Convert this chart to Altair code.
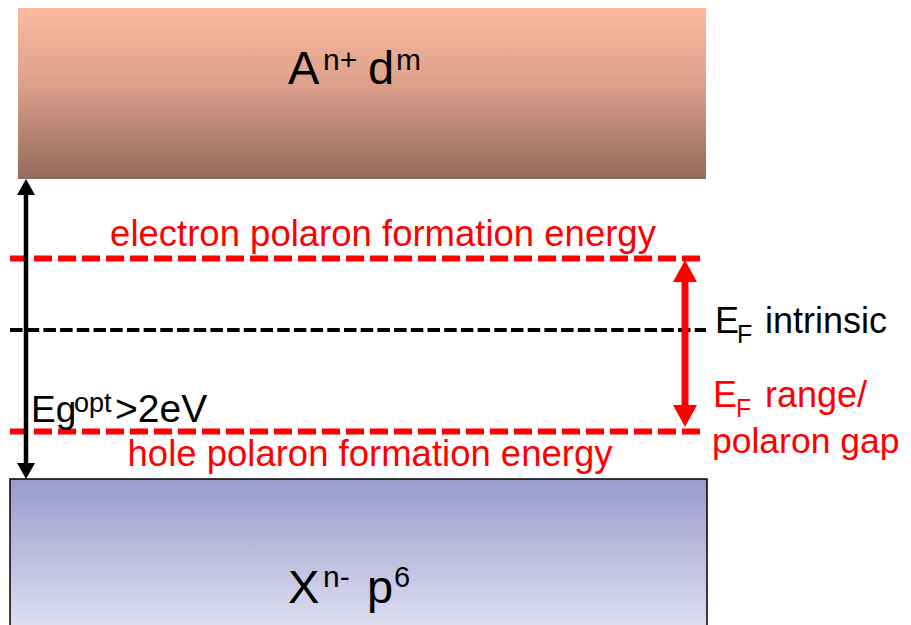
import altair as alt
import pandas as pd

# ---- canvas (diagram units = reference pixels) ----
W, H = 895, 617
X0, Y0 = 8, 8

# ---- bands ----
band_names = ["A", "X"]
band_left = [18, 10]
band_right = [706, 707]
band_top = [8, 479]
band_bottom = [179, 640]

# ---- dashed levels ----
level_names = ["electron polaron", "EF intrinsic", "hole polaron"]
level_y = [258.5, 330, 431.5]
level_x1 = [10, 10, 10]
level_x2 = [706, 706, 706]

# ---- arrows ----
arrow_names = ["Eg", "EF range"]
arrow_x = [26, 685]
arrow_top = [179, 260]
arrow_bottom = [479, 427]
arrow_head_h = [16, 22]
arrow_head_w = [18, 24]
arrow_shaft = [4.5, 7]
arrow_color = ["black", "red"]

# ---- text pieces ----
txt = ["A", "n+", "d", "m", "X", "n-", "p", "6",
       "Eg", "opt", ">2eV",
       "E", "F", "intrinsic",
       "E", "F", "range/", "polaron gap"]
txt_x = [288, 323, 368, 396, 288, 323, 367, 394,
         31, 74, 115,
         715, 737, 765,
         713, 736, 765, 712]
txt_y = [84, 70, 84, 70, 603, 587, 603, 587,
         422, 412, 422,
         333, 343, 333,
         407, 417, 407, 453]
txt_size = [47, 30, 47, 30, 47, 30, 47, 29,
            37, 27, 39,
            36, 25, 36,
            36, 25, 36, 35.5]
txt_color = ["black"] * 14 + ["red"] * 4

ctxt = ["electron polaron formation energy", "hole polaron formation energy"]
ctxt_x = [383, 370]
ctxt_y = [246, 466]
ctxt_size = [36.5, 36.5]

FONT = "Liberation Sans"

xs = alt.Scale(domain=[X0, X0 + W], nice=False, zero=False)
ys = alt.Scale(domain=[Y0, Y0 + H], nice=False, zero=False, reverse=True)
X = lambda f: alt.X(f, type="quantitative", scale=xs, axis=None)
Y = lambda f: alt.Y(f, type="quantitative", scale=ys, axis=None)

bands = pd.DataFrame({"name": band_names, "l": band_left, "r": band_right,
                      "t": band_top, "b": band_bottom})

top_grad = alt.Gradient(gradient="linear", x1=0, x2=0, y1=0, y2=1,
                        stops=[alt.GradientStop(color="#FBB9A0", offset=0),
                               alt.GradientStop(color="#DCA08A", offset=0.45),
                               alt.GradientStop(color="#946B5A", offset=1)])
bot_grad = alt.Gradient(gradient="linear", x1=0, x2=0, y1=0, y2=1,
                        stops=[alt.GradientStop(color="#9A9ACD", offset=0),
                               alt.GradientStop(color="#E4E4F2", offset=1)])

band_top_layer = alt.Chart(bands[bands.name == "A"]).mark_rect(
    fill=top_grad, clip=True).encode(x=X("l"), x2="r", y=Y("t"), y2="b")
band_bot_layer = alt.Chart(bands[bands.name == "X"]).mark_rect(
    fill=bot_grad, stroke="black", strokeWidth=1.5, clip=True).encode(
    x=X("l"), x2="r", y=Y("t"), y2="b")

levels = pd.DataFrame({"name": level_names, "y": level_y,
                       "x1": level_x1, "x2": level_x2})
red_levels = alt.Chart(levels[levels.name != "EF intrinsic"]).mark_rule(
    color="red", strokeWidth=6, strokeDash=[18, 6]).encode(
    x=X("x1"), x2="x2", y=Y("y"))
black_level = alt.Chart(levels[levels.name == "EF intrinsic"]).mark_rule(
    color="black", strokeWidth=4, strokeDash=[12.5, 4.2]).encode(
    x=X("x1"), x2="x2", y=Y("y"))

arrows = pd.DataFrame({"name": arrow_names, "x": arrow_x, "t": arrow_top,
                       "b": arrow_bottom, "h": arrow_head_h, "w": arrow_head_w,
                       "sw": arrow_shaft, "c": arrow_color})

arrow_layers = []
for i in range(len(arrow_names)):
    a = arrows.iloc[[i]].copy()
    h, w = arrow_head_h[i], arrow_head_w[i]
    k = w / h
    up = f"M0,0L{k:.3f},2L{-k:.3f},2Z"
    down = f"M0,0L{k:.3f},-2L{-k:.3f},-2Z"
    a["st"] = a["t"] + h * 0.8
    a["sb"] = a["b"] - h * 0.8
    shaft = alt.Chart(a).mark_rule(color=arrow_color[i],
                                   strokeWidth=arrow_shaft[i]).encode(
        x=X("x"), y=Y("st"), y2="sb")
    head_up = alt.Chart(a).mark_point(shape=up, size=h * h, filled=True,
                                      opacity=1, strokeWidth=0,
                                      color=arrow_color[i]).encode(
        x=X("x"), y=Y("t"))
    head_down = alt.Chart(a).mark_point(shape=down, size=h * h, filled=True,
                                        opacity=1, strokeWidth=0,
                                        color=arrow_color[i]).encode(
        x=X("x"), y=Y("b"))
    arrow_layers += [shaft, head_up, head_down]

texts = pd.DataFrame({"t": txt, "x": txt_x, "y": txt_y, "s": txt_size,
                      "c": txt_color})
text_layer = alt.Chart(texts).mark_text(
    align="left", baseline="alphabetic", font=FONT).encode(
    x=X("x"), y=Y("y"), text="t",
    size=alt.Size("s", type="quantitative", scale=None),
    color=alt.Color("c", type="nominal", scale=None))

ctexts = pd.DataFrame({"t": ctxt, "x": ctxt_x, "y": ctxt_y, "s": ctxt_size})
ctext_layer = alt.Chart(ctexts).mark_text(
    align="center", baseline="alphabetic", font=FONT, color="red").encode(
    x=X("x"), y=Y("y"), text="t",
    size=alt.Size("s", type="quantitative", scale=None))

chart = alt.layer(
    band_top_layer, band_bot_layer, black_level, red_levels,
    *arrow_layers, text_layer, ctext_layer
).properties(
    width=W, height=H, padding=0,
    autosize=alt.AutoSizeParams(type="none"),
    background="white"
).configure_view(stroke=None)

chart.save("out.html", embed_options={"renderer": "svg", "actions": False})
